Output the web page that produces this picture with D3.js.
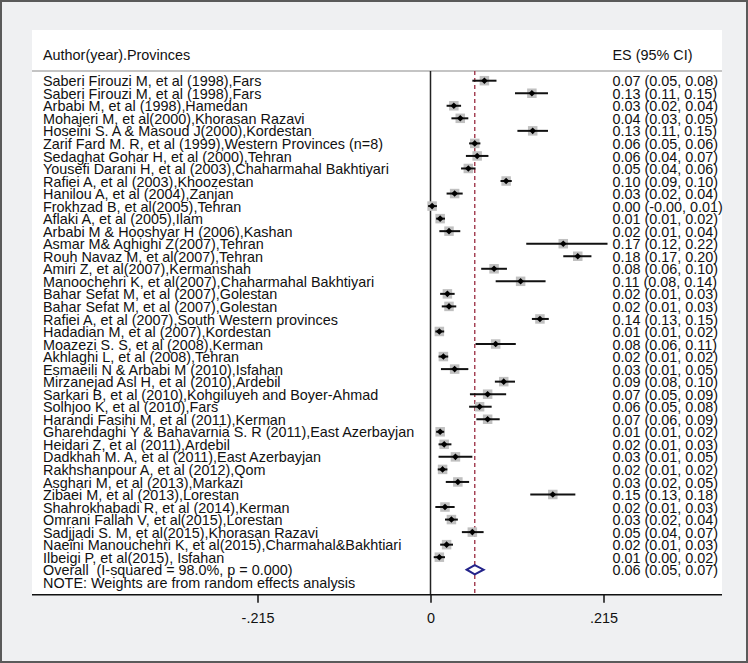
<!DOCTYPE html>
<html><head><meta charset="utf-8">
<script src="https://cdn.jsdelivr.net/npm/d3@7/dist/d3.min.js"></script>
<style>
html,body{margin:0;padding:0;background:#eff0f2;}
svg{display:block;font-family:"Liberation Sans",Arial,Helvetica,sans-serif;}
text{white-space:pre;}
</style></head>
<body>
<svg id="c" width="748" height="663"></svg>
<script>
const studies = [
"Saberi Firouzi M, et al (1998),Fars",
"Saberi Firouzi M, et al (1998),Fars",
"Arbabi M, et al (1998),Hamedan",
"Mohajeri M, et al(2000),Khorasan Razavi",
"Hoseini S. A & Masoud J(2000),Kordestan",
"Zarif Fard M. R, et al (1999),Western Provinces (n=8)",
"Sedaghat Gohar H, et al (2000),Tehran",
"Yousefi Darani H, et al (2003),Chaharmahal Bakhtiyari",
"Rafiei A, et al (2003),Khoozestan",
"Hanilou A, et al (2004),Zanjan",
"Frokhzad B, et al(2005),Tehran",
"Aflaki A, et al (2005),Ilam",
"Arbabi M & Hooshyar H (2006),Kashan",
"Asmar M& Aghighi Z(2007),Tehran",
"Rouh Navaz M, et al(2007),Tehran",
"Amiri Z, et al(2007),Kermanshah",
"Manoochehri K, et al(2007),Chaharmahal Bakhtiyari",
"Bahar Sefat M, et al (2007),Golestan",
"Bahar Sefat M, et al (2007),Golestan",
"Rafiei A, et al (2007),South Western provinces",
"Hadadian M, et al (2007),Kordestan",
"Moazezi S. S, et al (2008),Kerman",
"Akhlaghi L, et al (2008),Tehran",
"Esmaeili N & Arbabi M (2010),Isfahan",
"Mirzanejad Asl H, et al (2010),Ardebil",
"Sarkari B, et al (2010),Kohgiluyeh and Boyer-Ahmad",
"Solhjoo K, et al (2010),Fars",
"Harandi Fasihi M, et al (2011),Kerman",
"Gharehdaghi Y & Bahavarnia S. R (2011),East Azerbayjan",
"Heidari Z, et al (2011),Ardebil",
"Dadkhah M. A, et al (2011),East Azerbayjan",
"Rakhshanpour A, et al (2012),Qom",
"Asghari M, et al (2013),Markazi",
"Zibaei M, et al (2013),Lorestan",
"Shahrokhabadi R, et al (2014),Kerman",
"Omrani Fallah V, et al(2015),Lorestan",
"Sadjjadi S. M, et al(2015),Khorasan Razavi",
"Naeini Manouchehri K, et al(2015),Charmahal&Bakhtiari",
"Ilbeigi P, et al(2015), Isfahan"
];
const es = [0.067,0.126,0.029,0.037,0.127,0.055,0.058,0.047,0.094,0.030,0.002,0.012,0.023,0.165,0.183,0.079,0.112,0.021,0.023,0.136,0.011,0.081,0.016,0.030,0.091,0.071,0.061,0.071,0.012,0.017,0.031,0.015,0.034,0.152,0.018,0.026,0.052,0.020,0.011];
const lo = [0.052,0.105,0.020,0.026,0.108,0.048,0.044,0.038,0.087,0.020,-0.003,0.007,0.011,0.119,0.165,0.063,0.081,0.012,0.014,0.126,0.006,0.056,0.010,0.013,0.080,0.049,0.048,0.057,0.007,0.010,0.010,0.009,0.019,0.124,0.006,0.018,0.039,0.012,0.004];
const hi = [0.082,0.146,0.038,0.047,0.146,0.062,0.072,0.056,0.101,0.040,0.008,0.018,0.037,0.220,0.200,0.095,0.143,0.030,0.032,0.147,0.017,0.106,0.022,0.047,0.105,0.094,0.076,0.086,0.017,0.026,0.052,0.021,0.048,0.180,0.030,0.034,0.066,0.028,0.018];
const esText = [
"0.07 (0.05, 0.08)","0.13 (0.11, 0.15)","0.03 (0.02, 0.04)","0.04 (0.03, 0.05)","0.13 (0.11, 0.15)",
"0.06 (0.05, 0.06)","0.06 (0.04, 0.07)","0.05 (0.04, 0.06)","0.10 (0.09, 0.10)","0.03 (0.02, 0.04)",
"0.00 (-0.00, 0.01)","0.01 (0.01, 0.02)","0.02 (0.01, 0.04)","0.17 (0.12, 0.22)","0.18 (0.17, 0.20)",
"0.08 (0.06, 0.10)","0.11 (0.08, 0.14)","0.02 (0.01, 0.03)","0.02 (0.01, 0.03)","0.14 (0.13, 0.15)",
"0.01 (0.01, 0.02)","0.08 (0.06, 0.11)","0.02 (0.01, 0.02)","0.03 (0.01, 0.05)","0.09 (0.08, 0.10)",
"0.07 (0.05, 0.09)","0.06 (0.05, 0.08)","0.07 (0.06, 0.09)","0.01 (0.01, 0.02)","0.02 (0.01, 0.03)",
"0.03 (0.01, 0.05)","0.02 (0.01, 0.02)","0.03 (0.02, 0.05)","0.15 (0.13, 0.18)","0.02 (0.01, 0.03)",
"0.03 (0.02, 0.04)","0.05 (0.04, 0.07)","0.02 (0.01, 0.03)","0.01 (0.00, 0.02)"
];
const overall = {label:"Overall  (I-squared = 98.0%, p = 0.000)", es:0.055, lo:0.045, hi:0.066, text:"0.06 (0.05, 0.07)"};
const note = "NOTE: Weights are from random effects analysis";
const tickVals = [-0.215, 0, 0.215];
const tickLabels = ["-.215", "0", ".215"];

const svg = d3.select("#c");
const FS = 14.4;
// frame
svg.append("rect").attr("x",1).attr("y",1).attr("width",746).attr("height",661)
  .attr("fill","#eff0f2").attr("stroke","#5a5a5a").attr("stroke-width",2);
// white panel
const panel = {x0:32, x1:722, y0:30, y1:595};
svg.append("rect").attr("x",panel.x0).attr("y",panel.y0).attr("width",panel.x1-panel.x0).attr("height",panel.y1-panel.y0).attr("fill","#fff");

const x = d3.scaleLinear().domain([-0.215,0.215]).range([257.5,603.5]);
const y = d3.scaleLinear().domain([0,41]).range([80.7,594.8]);

// header
svg.append("text").attr("x",43).attr("y",60).attr("font-size",FS).attr("fill","#111").text("Author(year).Provinces");
svg.append("text").attr("x",612.5).attr("y",60).attr("font-size",FS).attr("fill","#111").text("ES (95% CI)");
svg.append("line").attr("x1",panel.x0).attr("x2",panel.x1).attr("y1",71).attr("y2",71).attr("stroke","#b0b0b0").attr("stroke-width",1.5);

// zero line
svg.append("line").attr("x1",x(0)).attr("x2",x(0)).attr("y1",71).attr("y2",y(41)).attr("stroke","#222").attr("stroke-width",1.5);
// overall dashed line
svg.append("line").attr("x1",x(overall.es)).attr("x2",x(overall.es)).attr("y1",71).attr("y2",y(41))
  .attr("stroke","#a0384c").attr("stroke-width",1.4).attr("stroke-dasharray","4,3");

const rows = studies.map((s,i)=>({label:s, es:es[i], lo:lo[i], hi:hi[i], text:esText[i], i}));

// labels
svg.append("g").selectAll("text").data(rows).join("text")
  .attr("x",43).attr("y",d=>y(d.i)+5.6).attr("font-size",FS).attr("fill","#111").text(d=>d.label);
svg.append("g").selectAll("text").data(rows).join("text")
  .attr("x",612.5).attr("y",d=>y(d.i)+5.6).attr("font-size",FS).attr("fill","#111").text(d=>d.text);

// weight boxes
const B = 9.5;
svg.append("g").selectAll("rect").data(rows).join("rect")
  .attr("x",d=>x(d.es)-B/2).attr("y",d=>y(d.i)-B/2).attr("width",B).attr("height",B)
  .attr("fill","#c0c0c0");
// CI lines
svg.append("g").selectAll("line").data(rows).join("line")
  .attr("x1",d=>x(d.lo)).attr("x2",d=>x(d.hi)).attr("y1",d=>y(d.i)).attr("y2",d=>y(d.i))
  .attr("stroke","#111").attr("stroke-width",2);
// point diamonds
svg.append("g").selectAll("path").data(rows).join("path")
  .attr("d",d=>{const cx=x(d.es), cy=y(d.i), r=3.3; return `M${cx-r},${cy}L${cx},${cy-r}L${cx+r},${cy}L${cx},${cy+r}Z`;})
  .attr("fill","#000");

// overall
const oi = 39;
svg.append("text").attr("x",43).attr("y",y(oi)+5.6).attr("font-size",FS).attr("fill","#111").text(overall.label);
svg.append("text").attr("x",612.5).attr("y",y(oi)+5.6).attr("font-size",FS).attr("fill","#111").text(overall.text);
{
  const cy=y(oi), h=4.6;
  svg.append("path").attr("d",`M${x(overall.lo)},${cy}L${x(overall.es)},${cy-h}L${x(overall.hi)},${cy}L${x(overall.es)},${cy+h}Z`)
    .attr("fill","#fff").attr("stroke","#23238a").attr("stroke-width",2);
}
svg.append("text").attr("x",43).attr("y",y(40)+5.6).attr("font-size",FS).attr("fill","#111").text(note);

// axis
const ax = svg.append("g").attr("transform",`translate(0,${y(41)})`)
  .call(d3.axisBottom(x).tickValues(tickVals).tickFormat((d,i)=>tickLabels[i]).tickSize(8).tickSizeOuter(0).tickPadding(10));
ax.select(".domain").remove();
ax.selectAll(".tick line").attr("stroke","#111").attr("stroke-width",1.5);
ax.selectAll(".tick text").attr("font-size",FS).attr("fill","#111").attr("font-family","'Liberation Sans',Arial,sans-serif");
svg.append("line").attr("x1",panel.x0).attr("x2",panel.x1).attr("y1",y(41)).attr("y2",y(41)).attr("stroke","#111").attr("stroke-width",1.5);
</script>
</body></html>
